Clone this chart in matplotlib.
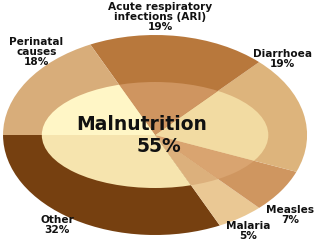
import matplotlib
matplotlib.use("Agg")
import matplotlib.pyplot as plt
from matplotlib.patches import Ellipse

# data
causes = ["Other", "Malaria", "Measles", "Diarrhoea", "Acute respiratory\ninfections (ARI)", "Perinatal\ncauses"]
shares = [32, 5, 7, 19, 19, 18]
outer_colors = ["#764010", "#eac894", "#cf9660", "#ddb47c", "#b8783c", "#d8ad7a"]
inner_colors = ["#f6e4ae", "#dcb07c", "#d9a470", "#f2dba2", "#cf9560", "#fff6c6"]
centre_label = "Malnutrition"
centre_share = 55

fig = plt.figure(figsize=(3.2, 2.4), dpi=100)
ax = fig.add_axes([0, 0, 1, 1])

# outer ring
ax.pie(shares, colors=outer_colors, startangle=180, counterclock=True,
       radius=1, wedgeprops=dict(linewidth=0))

# inner (malnutrition) ellipse, lighter shades of the same slices
inner, _ = ax.pie(shares, colors=inner_colors, startangle=180, counterclock=True,
                  radius=1, wedgeprops=dict(linewidth=0))

ax.set_aspect("auto")
ax.set_xlim(-1.02, 1.085)
ax.set_ylim(-1.05, 1.35)
ax.axis("off")

clip = Ellipse((0, 0), 2 * 0.745, 2 * 0.53, facecolor="none", edgecolor="none")
ax.add_patch(clip)
for w in inner:
    w.set_clip_on(True)
    w.set_clip_path(clip)

# labels around the pie
lab_pos = [(-0.645, -0.90), (0.61, -0.96), (0.89, -0.80),
           (0.84, 0.76), (0.033, 1.18), (-0.78, 0.83)]
for name, val, (x, y) in zip(causes, shares, lab_pos):
    ax.text(x, y, f"{name}\n{val}%", ha="center", va="center",
            fontsize=7.6, fontweight="bold", linespacing=0.95, color="#111111")

ax.text(-0.085, 0.11, centre_label, ha="center", va="center",
        fontsize=13.5, fontweight="bold", color="#111111")
ax.text(0.026, -0.12, f"{centre_share}%", ha="center", va="center",
        fontsize=13.5, fontweight="bold", color="#111111")

fig.savefig("out.png", dpi=100, facecolor="white")
